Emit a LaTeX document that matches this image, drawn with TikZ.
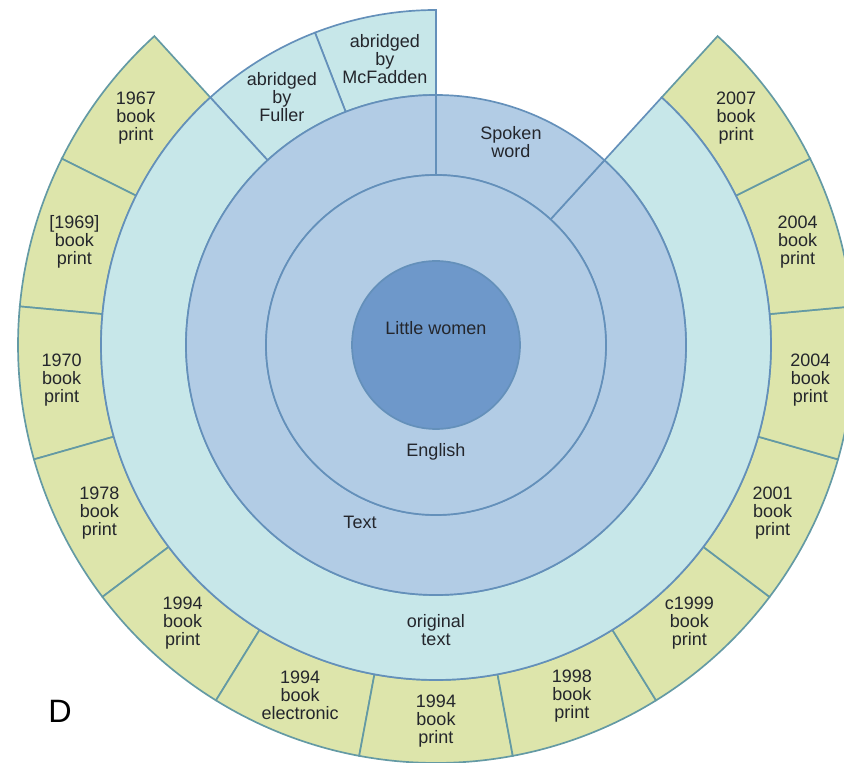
\documentclass[tikz,border=0pt]{standalone}
\usepackage{fontspec}
\setmainfont{Liberation Sans}
\usetikzlibrary{positioning}

\definecolor{coreblue}{RGB}{110,152,202}
\definecolor{ringblue}{RGB}{178,204,229}
\definecolor{palecyan}{RGB}{199,231,233}
\definecolor{palegreen}{RGB}{221,229,171}
\definecolor{lineblue}{RGB}{100,144,186}
\definecolor{lineteal}{RGB}{100,154,164}
\definecolor{labelgray}{RGB}{36,38,44}

\newcommand{\ringpart}[5]{\filldraw[#1] (#2:#4) -- (#2:#5) arc[start angle=#2, end angle=#3, radius=#5] -- (#3:#4) arc[start angle=#3, end angle=#2, radius=#4] -- cycle;}

\begin{document}
\begin{tikzpicture}[x=0.025cm, y=0.025cm]
    \tikzstyle{rootpart} = [fill=coreblue, draw=lineblue, line width=1.2pt]
    \tikzstyle{formpart} = [fill=ringblue, draw=lineblue, line width=1.2pt]
    \tikzstyle{variantpart} = [fill=palecyan, draw=lineblue, line width=1.2pt]
    \tikzstyle{editionpart} = [fill=palegreen, draw=lineteal, line width=1.2pt]
    \tikzstyle{sunlabel} = [align=center, text=labelgray, inner sep=0pt, font=\fontsize{12.8}{12.8}\selectfont]

    \useasboundingbox (-436,-418) rectangle (408,345);
    \clip (-436,-418) rectangle (408,345);

    \pgfmathsetmacro{\u}{360/17}

    \foreach \lbl [count=\k from 2] in {{1967\\book\\print}, {[1969]\\book\\print}, {1970\\book\\print}, {1978\\book\\print}, {1994\\book\\print}, {1994\\book\\electronic}, {1994\\book\\print}, {1998\\book\\print}, {c1999\\book\\print}, {2001\\book\\print}, {2004\\book\\print}, {2004\\book\\print}, {2007\\book\\print}} {
        \pgfmathsetmacro{\a}{90+\k*\u}
        \pgfmathsetmacro{\b}{90+(\k+1)*\u}
        \pgfmathsetmacro{\m}{90+(\k+0.5)*\u}
        \ringpart{editionpart}{\a}{\b}{335}{418}
        \node[sunlabel] (ed\k) at (\m:376) {\lbl};
    }

    \ringpart{variantpart}{90}{90+\u}{250}{335}
    \ringpart{variantpart}{90+\u}{90+2*\u}{250}{335}
    \ringpart{variantpart}{90+2*\u}{90+15*\u}{250}{335}
    \ringpart{formpart}{90}{90+15*\u}{170}{250}
    \ringpart{formpart}{90+15*\u}{450}{170}{250}
    \filldraw[formpart] (0,0) circle[radius=170];
    \filldraw[rootpart] (0,0) circle[radius=84];

    \node[sunlabel] (title) at (0,17) {Little women};
    \node[sunlabel] (lang) at (0,-107) {English};
    \node[sunlabel] (text) at (-76,-177) {Text};
    \node[sunlabel] (spoken) at (75,203) {Spoken\\word};
    \node[sunlabel] (original) at (0,-285) {original\\text};
    \node[sunlabel] (fuller) at (-154,248) {abridged\\by\\Fuller};
    \node[sunlabel] (mcfadden) at (-51,286) {abridged\\by\\McFadden};
    \node[font=\fontsize{23}{25}\selectfont] (panel) at (-376,-366) {D};
\end{tikzpicture}
\end{document}
